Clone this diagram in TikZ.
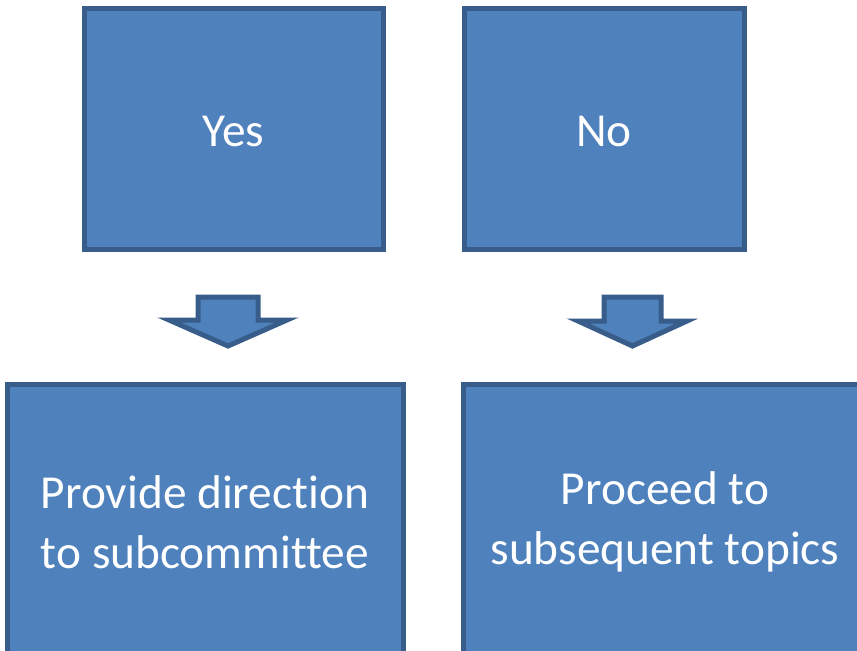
\documentclass[tikz,border=0pt]{standalone}
\usepackage{fontspec}
\setmainfont{Carlito}[Ligatures={NoCommon}]
\definecolor{boxfill}{HTML}{4F81BD}
\definecolor{boxline}{HTML}{385D8A}
\begin{document}
\begin{tikzpicture}[x=0.75pt,y=-0.75pt,
  box/.style={draw=boxline,fill=boxfill,line width=3.75pt},
  label/.style={text=white,font=\fontsize{35.5}{45}\selectfont,align=center},
  blockarrow/.style={draw=boxline,fill=boxfill,line width=3.75pt,line join=miter}]
\useasboundingbox (0,0) rectangle (857,650);
\clip (0,0) rectangle (857,650);
% top boxes
\draw[box] (84,8) rectangle (383,249);
\node[label] (yes) at (233.5,131) {Yes};
\draw[box] (464,8) rectangle (744,249);
\node[label] (no) at (604,131) {No};
% bottom boxes
\draw[box] (7,384) rectangle (403,660);
\node[label] (prov) at (205,522) {Provide direction\\to subcommittee};
\draw[box] (463,384) rectangle (870,660);
\node[label] (proc) at (665,522) {Proceed to\\subsequent topics};
% block arrows
\draw[blockarrow] (198,297) -- (258,297) -- (258,320) -- (287,320) -- (228,346) -- (169,320) -- (198,320) -- cycle;
\draw[blockarrow] (604,297) -- (661,297) -- (661,321) -- (687,321) -- (632.5,346) -- (578,321) -- (604,321) -- cycle;
\end{tikzpicture}
\end{document}
